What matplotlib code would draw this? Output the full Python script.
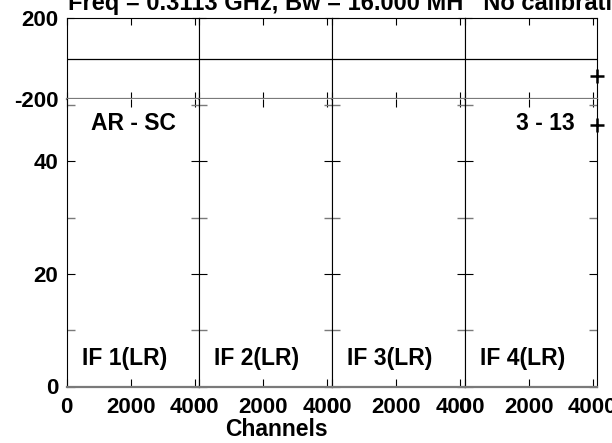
import numpy as np
import matplotlib
matplotlib.use("Agg")
import matplotlib.pyplot as plt
from matplotlib.ticker import FixedLocator

plt.rcParams["font.family"] = ["Liberation Sans", "DejaVu Sans"]
plt.rcParams["font.weight"] = "bold"
plt.rcParams["axes.unicode_minus"] = False

# data
if_names = ["IF 1(LR)", "IF 2(LR)", "IF 3(LR)", "IF 4(LR)"]
chan_if1 = []
chan_if2 = []
chan_if3 = []
chan_if4 = [4140]
amp_if1 = []
amp_if2 = []
amp_if3 = []
amp_if4 = [46.5]
phase_if1 = []
phase_if2 = []
phase_if3 = []
phase_if4 = [-87.5]
x_ticks = [0, 2000, 4000]
amp_ticks = [0, 20, 40]
amp_minor = [10, 30, 50]
phase_ticks = [-200, 200]
title = "Freq = 0.3113 GHz, Bw = 16.000 MH   No calibrati"
baseline_label = "AR - SC"
time_label = "3 - 13"

chans = [chan_if1, chan_if2, chan_if3, chan_if4]
amps = [amp_if1, amp_if2, amp_if3, amp_if4]
phases = [phase_if1, phase_if2, phase_if3, phase_if4]

W, H = 612, 443
fig = plt.figure(figsize=(W / 100, H / 100), dpi=100)

lefts = [66.7, 199.3, 331.9, 464.5]
pw = 132.6
ph_top, ph_bot = 18.5, 98.7
am_top, am_bot = 98.7, 386.5
gray = "#7a7a7a"
fs_tick = 16
fs_txt = 16.5

for i in range(4):
    x0 = lefts[i] / W
    axp = fig.add_axes([x0, 1 - ph_bot / H, pw / W, (ph_bot - ph_top) / H])
    axa = fig.add_axes([x0, 1 - am_bot / H, pw / W, (am_bot - am_top) / H])

    # phase panel
    axp.set_xlim(0, 4140)
    axp.set_ylim(-200, 200)
    axp.axhline(0, color="black", lw=0.9)
    axp.plot(chans[i], phases[i], "+", color="black", ms=10, mew=1.8, clip_on=False)
    axp.set_xticks(x_ticks)
    axp.set_yticks(phase_ticks)
    axp.tick_params(direction="in", length=5, width=0.8, top=True, right=True,
                    labelbottom=False, labelsize=fs_tick, pad=6)
    if i > 0:
        axp.tick_params(labelleft=False)
    axp.spines["bottom"].set_color(gray)
    axp.spines["bottom"].set_linewidth(1.6)

    # amplitude panel
    axa.set_xlim(0, 4140)
    axa.set_ylim(0, 51.1)
    axa.plot(chans[i], amps[i], "+", color="black", ms=10, mew=1.8, clip_on=False)
    axa.set_xticks(x_ticks)
    axa.set_yticks(amp_ticks)
    axa.yaxis.set_minor_locator(FixedLocator(amp_minor))
    axa.tick_params(which="major", direction="in", length=6, width=0.8, top=True, right=True,
                    labelsize=fs_tick, pad=6)
    axa.tick_params(which="minor", direction="in", length=6, width=1.0, right=True, color=gray)
    axa.tick_params(axis="x", which="major", pad=7.5)
    if i > 0:
        axa.tick_params(labelleft=False)
    axa.spines["top"].set_visible(False)
    axa.spines["bottom"].set_color(gray)
    axa.spines["bottom"].set_linewidth(1.6)

    fig.text((lefts[i] + 15) / W, 1 - 358 / H, if_names[i], fontsize=fs_txt,
             ha="left", va="center", weight="bold")

fig.text(133 / W, 1 - 124 / H, baseline_label, fontsize=fs_txt, ha="center", va="center", weight="bold")
fig.text(575 / W, 1 - 123 / H, time_label, fontsize=fs_txt, ha="right", va="center", weight="bold")
fig.text(276 / W, 1 - 429 / H, "Channels", fontsize=fs_txt, ha="center", va="center", weight="bold")
fig.text(68 / W, 1 - 10 / H, title, fontsize=17, ha="left", va="baseline", weight="bold")

fig.savefig("out.png", dpi=100)
